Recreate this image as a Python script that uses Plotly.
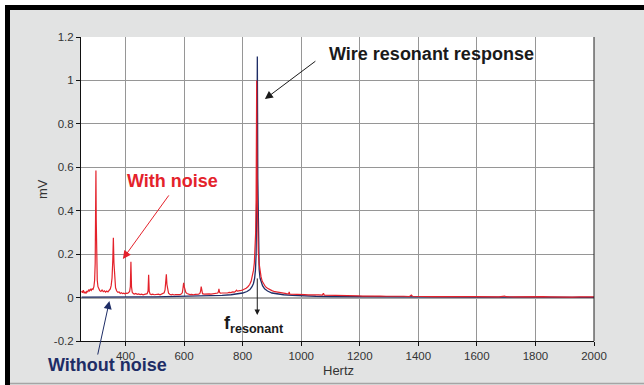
import plotly.graph_objects as go

# Spectrum measured with mains-harmonic noise present (Hz, mV)
noise_hz = [250, 253, 256, 259, 262, 265, 268, 271, 274, 277, 280, 283, 286, 289, 292,
            294.5, 296.5, 298, 299, 300, 301.5, 303.5, 306, 309, 312, 316, 320, 324, 328,
            332, 336, 340, 344, 348, 351, 354, 356.5, 358.5, 360.5, 363, 366, 370, 374,
            378, 382, 386, 390, 394, 398, 402, 406, 410, 414, 416.5, 418.5, 420.5, 423,
            427, 431, 435, 440, 445, 450, 455, 460, 465, 470, 474, 477, 479, 481, 484,
            488, 493, 498, 503, 508, 513, 518, 523, 528, 532, 535, 537.5, 539.5, 541.5,
            544, 547, 551, 556, 561, 566, 571, 576, 581, 586, 590, 594, 596.5, 598.5,
            600.5, 603, 606, 610, 615, 620, 626, 632, 638, 644, 650, 654, 656.5, 658.5,
            660.5, 663, 668, 674, 680, 686, 692, 698, 704, 710, 715, 717.5, 719, 721,
            724, 730, 736, 742, 748, 754, 760, 766, 772, 776, 779, 782, 786, 790, 795,
            800, 806, 812, 818, 824, 829, 833, 837, 840, 842.5, 844.5, 846, 847.2, 848,
            848.8, 850, 851.5, 853.5, 856, 859, 863, 867, 872, 878, 885, 892, 900, 910,
            920, 930, 940, 950, 957, 959, 961, 970, 980, 990, 1000, 1012, 1024, 1036,
            1048, 1060, 1072, 1076, 1079, 1090, 1105, 1120, 1135, 1150, 1165, 1180, 1195,
            1210, 1230, 1250, 1270, 1290, 1310, 1330, 1350, 1370, 1376, 1380, 1400, 1425,
            1450, 1475, 1500, 1525, 1550, 1575, 1600, 1625, 1650, 1675, 1695, 1700, 1725,
            1750, 1775, 1800, 1825, 1850, 1875, 1900, 1925, 1950, 1975, 2000]
noise_mv = [0.030, 0.022, 0.034, 0.020, 0.027, 0.019, 0.030, 0.025, 0.036, 0.031, 0.038,
            0.033, 0.040, 0.038, 0.050,
            0.08, 0.16, 0.36, 0.585, 0.36, 0.16, 0.08, 0.05, 0.038, 0.032, 0.028, 0.035,
            0.027, 0.031, 0.025, 0.030, 0.026, 0.033, 0.040, 0.055, 0.09, 0.17, 0.275,
            0.16, 0.08, 0.045, 0.030, 0.024, 0.026, 0.019, 0.022, 0.018, 0.020, 0.017,
            0.020, 0.019, 0.022, 0.028, 0.05, 0.165, 0.05, 0.024, 0.018, 0.016, 0.019,
            0.015, 0.017, 0.014, 0.016, 0.013, 0.015, 0.016, 0.018, 0.03, 0.105, 0.03,
            0.016, 0.014, 0.016, 0.013, 0.015, 0.014, 0.016, 0.013, 0.015, 0.017, 0.022,
            0.035, 0.07, 0.107, 0.06, 0.03, 0.02, 0.015, 0.013, 0.015, 0.012, 0.014,
            0.013, 0.015, 0.014, 0.016, 0.022, 0.045, 0.068, 0.05, 0.033, 0.024, 0.019,
            0.016, 0.014, 0.015, 0.013, 0.015, 0.014, 0.016, 0.019, 0.03, 0.051, 0.028,
            0.018, 0.016, 0.017, 0.015, 0.017, 0.016, 0.018, 0.017, 0.019, 0.021, 0.028,
            0.04, 0.025, 0.02, 0.021, 0.02, 0.022, 0.021, 0.024, 0.023, 0.026, 0.025,
            0.029, 0.034, 0.03, 0.03, 0.032, 0.033, 0.035, 0.038, 0.043, 0.05, 0.06,
            0.075, 0.095, 0.125, 0.16, 0.21, 0.3, 0.45, 0.7, 1.0, 0.7, 0.45, 0.3, 0.21,
            0.16, 0.125, 0.095, 0.075, 0.06, 0.05, 0.043, 0.037, 0.032, 0.027, 0.024,
            0.021, 0.02, 0.018, 0.017, 0.026, 0.016, 0.016, 0.014, 0.015, 0.013, 0.014,
            0.012, 0.013, 0.011, 0.012, 0.011, 0.02, 0.011, 0.011, 0.01, 0.011, 0.009,
            0.01, 0.008, 0.009, 0.008, 0.007, 0.008, 0.006, 0.007, 0.006, 0.007, 0.005,
            0.006, 0.005, 0.012, 0.006, 0.005, 0.006, 0.004, 0.005, 0.004, 0.005, 0.003,
            0.004, 0.004, 0.003, 0.004, 0.003, 0.007, 0.004, 0.003, 0.004, 0.003, 0.003,
            0.004, 0.003, 0.002, 0.003, 0.002, 0.003, 0.002, 0.003]

# Clean wire response (Hz, mV)
clean_hz = [250, 300, 350, 400, 450, 500, 550, 600, 650, 700, 730, 760, 780, 800, 815,
            825, 832, 837, 841, 844, 846, 847.5, 848.7, 849.5, 850.2, 851, 851.8, 853,
            854.5, 856.5, 859.5, 863, 868, 875, 885, 900, 920, 940, 970, 1000, 1050,
            1100, 1200, 1300, 1400, 1600, 1800, 2000]
clean_mv = [0.002, 0.003, 0.002, 0.002, 0.003, 0.003, 0.004, 0.005, 0.006, 0.008, 0.010,
            0.013, 0.016, 0.021, 0.028, 0.037, 0.050, 0.065, 0.09, 0.13, 0.2, 0.32, 0.55,
            0.85, 1.11, 0.85, 0.55, 0.32, 0.2, 0.13, 0.09, 0.075, 0.055, 0.04, 0.03,
            0.021, 0.016, 0.013, 0.010, 0.008, 0.006, 0.005, 0.004, 0.003, 0.003, 0.002,
            0.002, 0.001]

x_ticks = [400, 600, 800, 1000, 1200, 1400, 1600, 1800, 2000]
y_ticks = [-0.2, 0, 0.2, 0.4, 0.6, 0.8, 1, 1.2]
y_tick_text = ["-0.2", "0", "0.2", "0.4", "0.6", "0.8", "1", "1.2"]

RED = "#e4222b"
NAVY = "#1e2d66"
FONT = "Liberation Sans"

W, H = 644, 385
ML, MR, MT, MB = 81, 50, 37, 44


def px_x(p):
    return (p - ML) / (W - ML - MR)


def px_y(p):
    return (H - MB - p) / (H - MT - MB)


fig = go.Figure()
fig.add_trace(go.Scatter(x=clean_hz, y=clean_mv, mode="lines",
                         line=dict(color=NAVY, width=1.3), hoverinfo="skip"))
fig.add_trace(go.Scatter(x=noise_hz, y=noise_mv, mode="lines",
                         line=dict(color=RED, width=1.2), hoverinfo="skip"))

shapes = [
    # white outer edge, then black frame on top and left
    dict(type="rect", xref="paper", yref="paper", x0=px_x(0), x1=px_x(W), y0=px_y(0), y1=px_y(5),
         fillcolor="white", line_width=0, layer="below"),
    dict(type="rect", xref="paper", yref="paper", x0=px_x(0), x1=px_x(5), y0=px_y(0), y1=px_y(H),
         fillcolor="white", line_width=0, layer="below"),
    dict(type="rect", xref="paper", yref="paper", x0=px_x(5), x1=px_x(W), y0=px_y(5), y1=px_y(10),
         fillcolor="black", line_width=0, layer="below"),
    dict(type="rect", xref="paper", yref="paper", x0=px_x(5), x1=px_x(10), y0=px_y(5), y1=px_y(H),
         fillcolor="black", line_width=0, layer="below"),
    dict(type="line", xref="paper", yref="paper", x0=px_x(10), x1=px_x(W), y0=px_y(383.5), y1=px_y(383.5),
         line=dict(color="#a5a5a5", width=1.5), layer="below"),
    # right edge of the plot frame
    dict(type="line", xref="paper", yref="paper", x0=1, x1=1, y0=0, y1=1,
         line=dict(color="#222222", width=1)),
]

ann = [
    dict(x=1088, y=1.122, xref="x", yref="y", text="<b>Wire resonant response</b>",
         showarrow=False, xanchor="left", yanchor="middle",
         font=dict(family=FONT, size=18, color="#1a1a1a")),
    dict(x=876, y=0.914, xref="x", yref="y", text="", showarrow=True,
         ax=52, ay=-39, arrowhead=2, arrowsize=1.6, arrowwidth=1, arrowcolor="#1a1a1a"),
    dict(x=398, y=0.537, xref="x", yref="y", text="<b>With noise</b>",
         showarrow=False, xanchor="left", yanchor="middle",
         font=dict(family=FONT, size=18, color=RED)),
    dict(x=391, y=0.178, xref="x", yref="y", text="", showarrow=True,
         ax=47, ay=-65, arrowhead=2, arrowsize=1.6, arrowwidth=1, arrowcolor=RED),
    dict(x=px_x(45.5), y=px_y(365), xref="paper", yref="paper", text="<b>Without noise</b>",
         showarrow=False, xanchor="left", yanchor="middle",
         font=dict(family=FONT, size=18, color=NAVY)),
    dict(x=345, y=-0.016, xref="x", yref="y", text="", showarrow=True,
         ax=-12, ay=55, arrowhead=2, arrowsize=1.6, arrowwidth=1, arrowcolor=NAVY),
    dict(x=850, y=-0.08, xref="x", yref="y", text="", showarrow=True,
         ax=0, ay=-38, arrowhead=2, arrowsize=1.1, arrowwidth=1, arrowcolor="#1a1a1a"),
    dict(x=840, y=-0.122, xref="x", yref="y", text="<b>f<sub>resonant</sub></b>",
         showarrow=False, xanchor="center", yanchor="middle",
         font=dict(family=FONT, size=18, color="#1a1a1a")),
    # axis titles
    dict(x=px_x(42), y=0.5, xref="paper", yref="paper", text="mV", textangle=-90,
         showarrow=False, xanchor="center", yanchor="middle",
         font=dict(family=FONT, size=13, color="#333333")),
    dict(x=px_x(338), y=px_y(370), xref="paper", yref="paper", text="Hertz",
         showarrow=False, xanchor="center", yanchor="middle",
         font=dict(family=FONT, size=13, color="#333333")),
]

fig.update_layout(
    width=W, height=H,
    margin=dict(l=ML, r=MR, t=MT, b=MB),
    paper_bgcolor="#e2e3e3",
    plot_bgcolor="white",
    showlegend=False,
    shapes=shapes,
    annotations=ann,
    font=dict(family=FONT, size=11.5, color="#333333"),
)
fig.update_xaxes(
    range=[248, 2000], tickvals=x_ticks, showgrid=True, gridcolor="#969696", gridwidth=1,
    showline=True, linecolor="#111111", linewidth=1, ticks="outside", ticklen=4,
    tickcolor="#111111", zeroline=False, tickfont=dict(size=11.5, color="#333333"),
)
fig.update_yaxes(
    range=[-0.2, 1.2], tickvals=y_ticks, ticktext=y_tick_text, showgrid=True,
    gridcolor="#969696", gridwidth=1, showline=True, linecolor="#111111", linewidth=1,
    ticks="outside", ticklen=4, tickcolor="#111111", zeroline=True,
    zerolinecolor="#a8a8a8", zerolinewidth=2, tickfont=dict(size=11.5, color="#333333"),
)

fig.write_html("out.html")
